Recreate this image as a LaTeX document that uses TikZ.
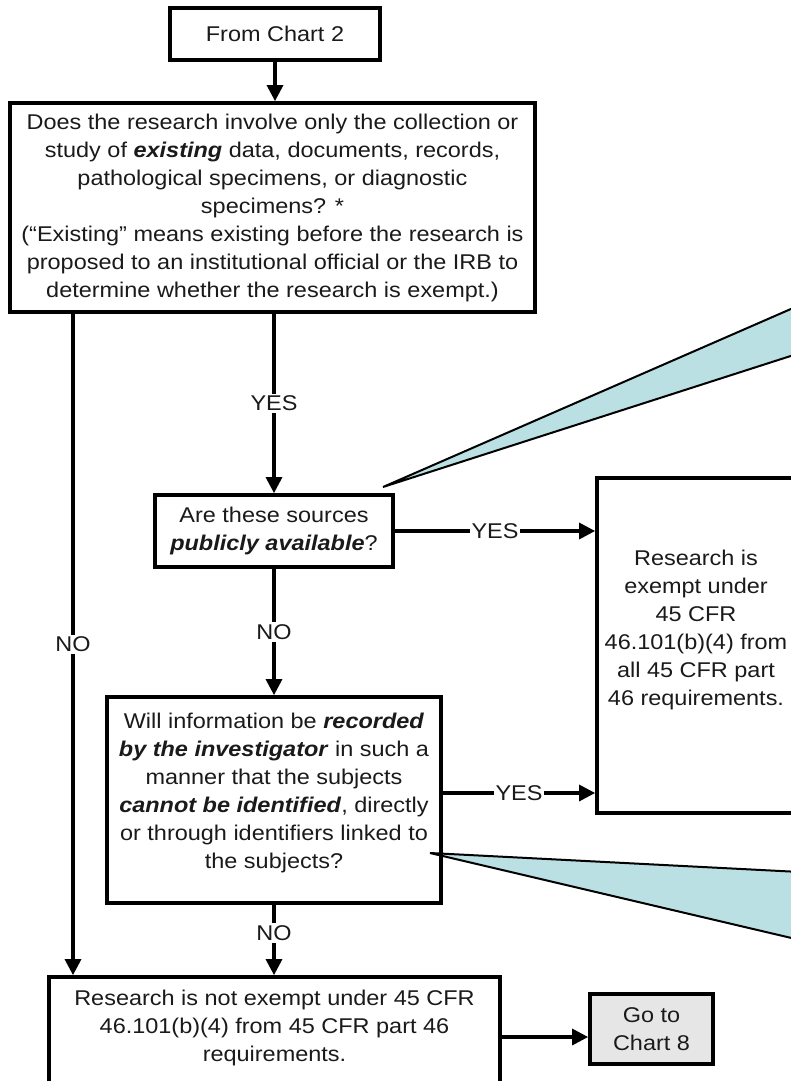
\documentclass[tikz,border=0pt]{standalone}
\usepackage{fontspec}
\setmainfont{Liberation Sans}[FakeStretch=1.1]
\usetikzlibrary{arrows.meta}
\definecolor{callout}{HTML}{BBE0E3}
\definecolor{gofill}{HTML}{E6E6E6}
\definecolor{ink}{HTML}{1A1A1A}
\newcommand{\bi}[1]{\textbf{\textit{#1}}}
\begin{document}
\begin{tikzpicture}[x=0.75pt,y=-0.75pt,
 box/.style={draw=black,line width=2.8pt,inner sep=0pt,align=center,font=\fontsize{16}{21}\selectfont,text=ink},
 txt/.style={align=center,font=\fontsize{16}{21}\selectfont,text=ink,inner sep=0pt},
 arr/.style={line width=2.4pt,-{Triangle[length=12pt,width=12pt]}},
 lbl/.style={fill=white,inner sep=1.5pt,font=\fontsize{16}{21}\selectfont,text=ink},
 co/.style={fill=callout,draw=black,line width=1.5pt,line join=miter}]
\clip (0,0) rectangle (791,1081);
\fill[white] (0,0) rectangle (791,1081);

% boxes
\node[box,minimum width=157.5pt,minimum height=39pt] (from) at (275,34) {From Chart 2};
\node[box,minimum width=393.75pt,minimum height=156.75pt] (q1) at (272.5,207.5) {Does the research involve only the collection or\\ study of \bi{existing} data, documents, records,\\ pathological specimens, or diagnostic\\ specimens? *\\ (“Existing” means existing before the research is\\ proposed to an institutional official or the IRB to\\ determine whether the research is exempt.)};
\node[box,minimum width=178.5pt,minimum height=54pt] (q2) at (274,531) {Are these sources\\ \bi{publicly available}?};
\node[box,minimum width=250.5pt,minimum height=154.5pt] (q3) at (274,800) {};
\node[txt] (q3txt) at (274,793) {Will information be \bi{recorded}\\ \bi{by the investigator} in such a\\ manner that the subjects\\ \bi{cannot be identified}, directly\\ or through identifiers linked to\\ the subjects?};
\node[box,minimum width=148.5pt,minimum height=251.25pt] (big) at (696,645.5) {};
\node[txt] (bigtxt) at (696,630) {Research is\\ exempt under\\ 45 CFR\\ 46.101(b)(4) from\\ all 45 CFR part\\ 46 requirements.};
\node[box,minimum width=338.25pt,minimum height=84.75pt] (bot) at (274.5,1033.5) {};
\node[txt] (bottxt) at (274.5,1028) {Research is not exempt under 45 CFR\\ 46.101(b)(4) from 45 CFR part 46\\ requirements.};
\node[box,fill=gofill,minimum width=92.25pt,minimum height=52.5pt] (goto) at (651.5,1029) {Go to\\ Chart 8};

% helper coordinates
\coordinate (nox) at (73,0);
\coordinate (arry) at (0,1037);

% connectors
\draw[arr] (from.south) -- (from.south |- q1.north);
\draw[arr] (q2.north |- q1.south) -- node[lbl]{YES} (q2.north);
\draw[arr] (nox |- q1.south) -- node[lbl]{NO} (nox |- bot.north);
\draw[arr] (q2.east) -- node[lbl]{YES} (big.west |- q2.east);
\draw[arr] (q2.south) -- node[lbl]{NO} (q3.north);
\draw[arr] (q3.east |- 0,793) -- node[lbl]{YES} (big.west |- 0,793);
\draw[arr] (q3.south) -- node[lbl,pos=0.4]{NO} (q3.south |- bot.north);
\draw[arr] (bot.east |- arry) -- (goto.west |- arry);

% callouts
\draw[co] (383,487) -- (800,305) -- (800,353) -- cycle;
\draw[co] (430,853) -- (800,872) -- (800,940) -- cycle;
\end{tikzpicture}
\end{document}
